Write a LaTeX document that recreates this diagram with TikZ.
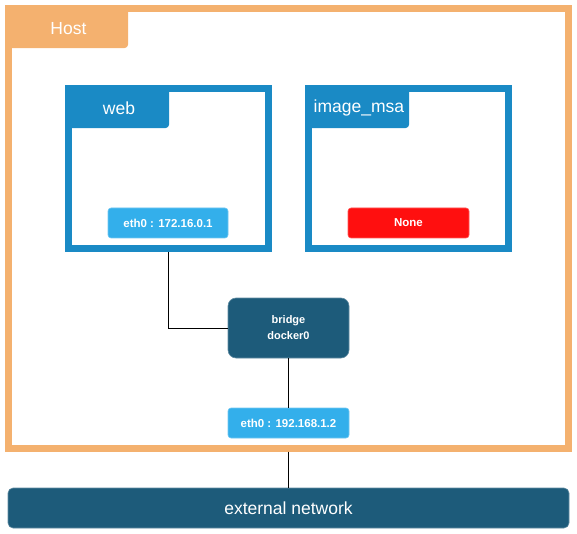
\documentclass[tikz,border=0pt]{standalone}
\usepackage{fontspec}
\setmainfont{Liberation Sans}
\definecolor{hostorange}{HTML}{F4B16F}
\definecolor{boxblue}{HTML}{1A8AC5}
\definecolor{ifblue}{HTML}{33AFEB}
\definecolor{netdark}{HTML}{1D5B7A}
\definecolor{nonered}{HTML}{FF0F0F}
\tikzset{
  boxframe/.style={draw, line width=7pt, fill=none, anchor=north west, inner sep=0pt},
  tabbox/.style={fill, rounded corners=4pt, text=white, anchor=north west, inner sep=0pt,
    font=\fontsize{17.5}{20}\selectfont},
  iface/.style={fill, draw=#1!70!white, line width=0.6pt, rounded corners=3pt, text=white,
    minimum width=120pt, minimum height=30pt, inner sep=0pt, font=\bfseries\fontsize{11.5}{14}\selectfont},
  wire/.style={draw=black, line width=1pt}
}
\begin{document}
\begin{tikzpicture}[x=1pt,y=-1pt]
  \useasboundingbox (0,0) rectangle (577,534);
  \node[boxframe, draw=hostorange, minimum width=560pt, minimum height=439.5pt] (host) at (5,5) {};
  \node[tabbox, fill=hostorange, minimum width=119.5pt, minimum height=39.5pt] (hosttab) at (8.5,8.5) {Host};
  \node[boxframe, draw=boxblue, minimum width=200pt, minimum height=160pt] (web) at (65,85) {};
  \node[tabbox, fill=boxblue, minimum width=100.5pt, minimum height=39.5pt] (webtab) at (68.5,88.5) {web};
  \node[boxframe, draw=boxblue, minimum width=200pt, minimum height=160pt] (msa) at (305,85) {};
  \node[tabbox, fill=boxblue, minimum width=100.5pt, minimum height=39.5pt] (msatab) at (308.5,88.5) {image\_msa};
  \node[iface=ifblue, fill=ifblue] (webeth) at (168,223) {eth0 : 172.16.0.1};
  \node[iface=nonered, fill=nonered, minimum width=121pt] (msaeth) at (408.5,223) {None};
  \node[iface=netdark, fill=netdark, minimum width=121pt, minimum height=60pt, rounded corners=8pt,
    align=center, font=\bfseries\fontsize{11}{16}\selectfont] (bridge) at (288.5,328) {bridge\\docker0};
  \node[iface=ifblue, fill=ifblue, minimum width=121pt] (hosteth) at (288.5,423) {eth0 : 192.168.1.2};
  \node[iface=netdark, fill=netdark, minimum width=561pt, minimum height=40pt, rounded corners=5pt,
    font=\fontsize{17.5}{20}\selectfont] (extnet) at (288.5,508) {external network};
  \draw[wire] (web.south) |- (bridge.west);
  \draw[wire] (bridge.south) -- (hosteth.north);
  \draw[wire] (host.south) -- (extnet.north);
\end{tikzpicture}
\end{document}
